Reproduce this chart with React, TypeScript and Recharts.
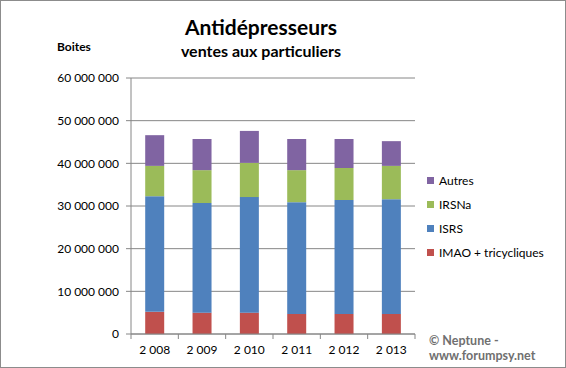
import React from 'react';
import { BarChart, Bar, XAxis, YAxis, CartesianGrid } from 'recharts';

const years = ['2 008', '2 009', '2 010', '2 011', '2 012', '2 013'];
const imao = [5200000, 5000000, 5000000, 4700000, 4700000, 4700000];
const isrs = [27100000, 25700000, 27100000, 26200000, 26700000, 26900000];
const irsna = [7100000, 7700000, 8000000, 7500000, 7500000, 7800000];
const autres = [7200000, 7300000, 7500000, 7300000, 6800000, 5800000];
const yTicks = [0, 10000000, 20000000, 30000000, 40000000, 50000000, 60000000];

const series = [
  { key: 'imao', name: 'IMAO + tricycliques', color: '#C0504D' },
  { key: 'isrs', name: 'ISRS', color: '#4F81BD' },
  { key: 'irsna', name: 'IRSNa', color: '#9BBB59' },
  { key: 'autres', name: 'Autres', color: '#8064A2' },
];

const data = years.map((year, i) => ({
  year,
  imao: imao[i],
  isrs: isrs[i],
  irsna: irsna[i],
  autres: autres[i],
}));

const FONT = 'Lato, "Open Sans", sans-serif';
const AXIS = '#868686';

const fmt = (v: number) => String(v).replace(/\B(?=(\d{3})+(?!\d))/g, ' ');

// x tick: label at center, tick marks on category boundaries (Excel style)
const XTick = (props: any) => {
  const { x, y, payload, index } = props;
  const half = payload?.offset ?? 23.67;
  const top = y - 8;
  return (
    <g>
      <line x1={x - half} x2={x - half} y1={top} y2={top + 5} stroke={AXIS} />
      {index === years.length - 1 && (
        <line x1={x + half} x2={x + half} y1={top} y2={top + 5} stroke={AXIS} />
      )}
      <text x={x} y={y + 12} textAnchor="middle" fill="#000" fontSize={12} fontFamily={FONT}>
        {payload.value}
      </text>
    </g>
  );
};

const LegendBox = () => (
  <div style={{ position: 'absolute', left: 427, top: 168, fontFamily: FONT, fontSize: 12, color: '#000' }}>
    {[...series].reverse().map((s) => (
      <div key={s.key} style={{ display: 'flex', alignItems: 'center', height: 24 }}>
        <span style={{ width: 7, height: 7, background: s.color, marginRight: 5, display: 'inline-block' }} />
        <span>{s.name}</span>
      </div>
    ))}
  </div>
);

export default function App() {
  return (
    <div style={{ position: 'absolute', left: 0, top: 0, width: 566, height: 368, background: '#fff' }}>
      <BarChart
        width={566}
        height={368}
        data={data}
        margin={{ top: 78, right: 151, bottom: 0, left: 0 }}
        barCategoryGap="30%"
      >
        <CartesianGrid vertical={false} stroke={AXIS} />
        <XAxis
          dataKey="year"
          height={34}
          stroke={AXIS}
          tickLine={false}
          tick={<XTick />}
          interval={0}
        />
        <YAxis
          width={131}
          domain={[0, 60000000]}
          ticks={yTicks}
          tickFormatter={fmt}
          stroke={AXIS}
          tickSize={5}
          tickMargin={7}
          tick={{ fill: '#000', fontSize: 12, fontFamily: FONT }}
        />
        {series.map((s) => (
          <Bar key={s.key} dataKey={s.key} name={s.name} stackId="a" fill={s.color} isAnimationActive={false} />
        ))}
      </BarChart>
      <LegendBox />
      <div style={{ position: 'absolute', left: 0, width: 522, top: 14, textAlign: 'center', fontFamily: FONT, fontWeight: 700, fontSize: 21, color: '#000' }}>
        Antidépresseurs
      </div>
      <div style={{ position: 'absolute', left: 0, width: 522, top: 41, textAlign: 'center', fontFamily: FONT, fontWeight: 700, fontSize: 16, color: '#000' }}>
        ventes aux particuliers
      </div>
      <div style={{ position: 'absolute', left: 57, top: 39, fontFamily: FONT, fontWeight: 700, fontSize: 12, color: '#000' }}>
        Boites
      </div>
      <div style={{ position: 'absolute', left: 429, top: 333, fontFamily: FONT, fontWeight: 700, fontSize: 12.5, lineHeight: '15px', color: '#707070' }}>
        © Neptune -<br />www.forumpsy.net
      </div>
      <div style={{ position: 'absolute', inset: 0, border: '1px solid #8c8c8c', pointerEvents: 'none' }} />
    </div>
  );
}
